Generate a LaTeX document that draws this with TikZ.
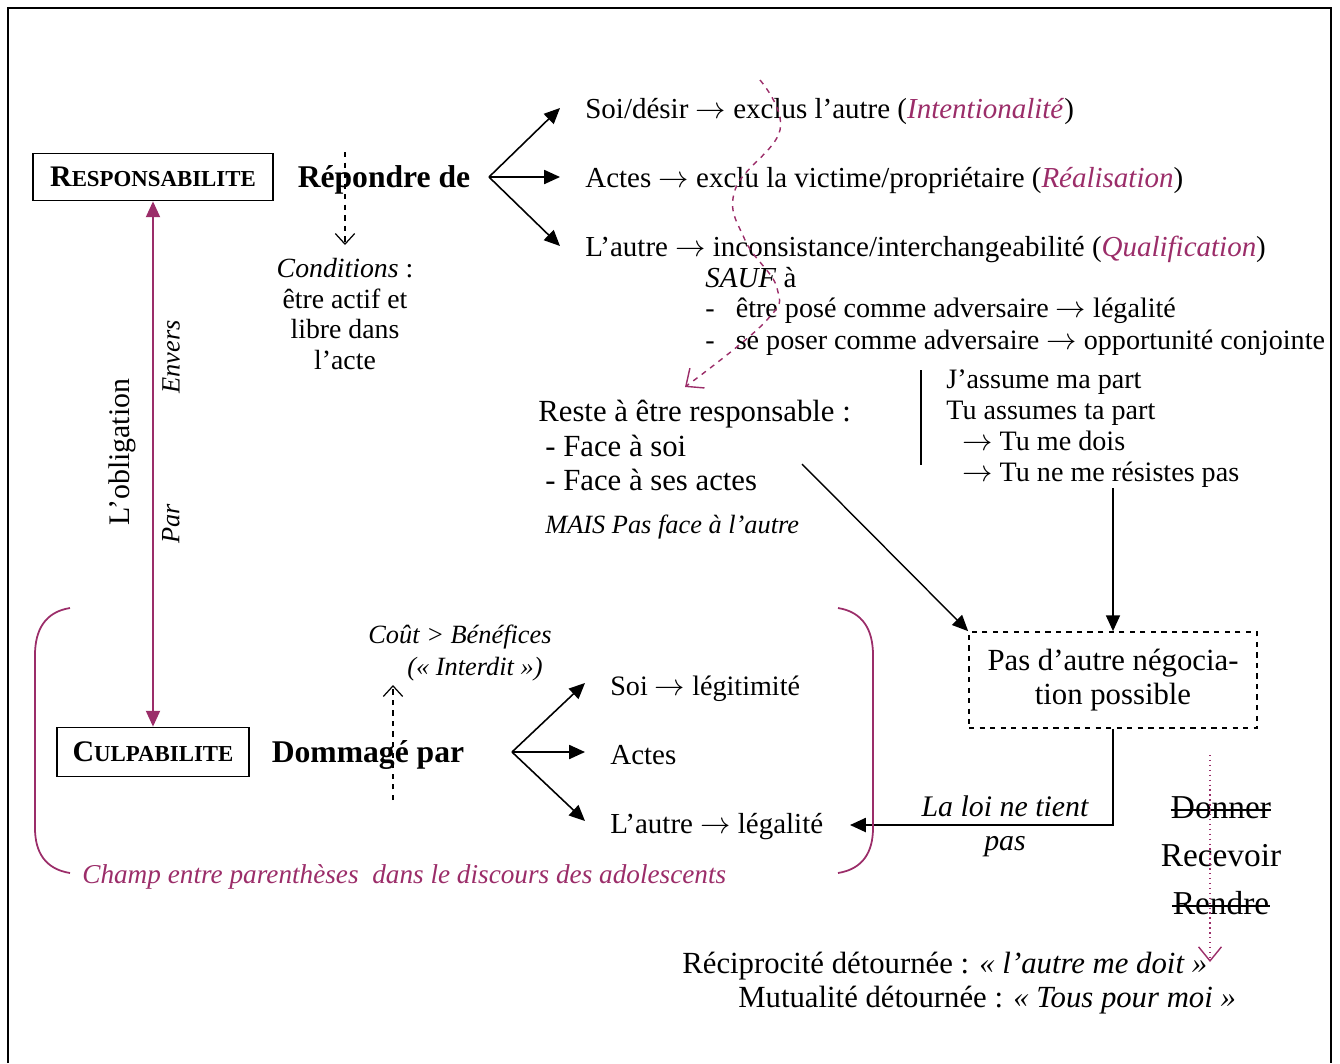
\documentclass[tikz,border=0pt]{standalone}
\usepackage{fontspec}
\setmainfont{Liberation Serif}
\usetikzlibrary{arrows.meta}
\definecolor{plum}{RGB}{155,45,105}
\newcommand{\pl}[1]{\textcolor{plum}{\textit{#1}}}
\newcommand{\ar}{$\rightarrow$}
\newcommand{\fakesc}[2]{{\fontsize{17}{20}\selectfont #1}{\fontsize{13}{16}\selectfont #2}}
\tikzset{
	lbl/.style={inner sep=0pt, anchor=west, text height=12pt, text depth=0.6pt},
	mid/.style={inner sep=0pt, text height=12pt, text depth=0.6pt},
	concept/.style={draw, line width=1pt, font=\bfseries, inner sep=0pt},
	fork/.style={line width=0.9pt, -{Triangle[length=9pt,width=8pt]}},
	hint/.style={dashed, line width=0.7pt, -{Straight Barb[length=6pt,width=11pt]}},
	bracket/.style={plum, line width=1pt},
	big/.style={font=\fontsize{16.5}{19}\selectfont},
	bigger/.style={font=\fontsize{17.5}{20}\selectfont}
}
\begin{document}
\begin{tikzpicture}[x=0.02cm, y=-0.02cm, font=\fontsize{15}{17.6}\selectfont]
	\useasboundingbox (0,0) rectangle (1340,1063);
	\draw[line width=1.1pt] (8,1063) -- (8,8) -- (1331,8) -- (1331,1063);
	% responsabilite
	\node[concept, minimum width=4.8cm, minimum height=0.94cm] (resp) at (153,177) {\fakesc{R}{ESPONSABILITE}};
	\node[mid, font=\fontsize{18}{21}\selectfont\bfseries] (rep) at (384,177) {Répondre de};
	\coordinate (rtop) at (345,152);
	\coordinate (rbot) at (345,245);
	\draw[hint] (rtop) -- (rbot);
	\node[align=center, inner sep=0pt, font=\fontsize{15.8}{17.6}\selectfont] (cond) at (345,314) {\textit{Conditions} :\\être actif et\\libre dans\\l’acte};
	\coordinate (rfork) at (489,177);
	\coordinate (rtip1) at (560,108);
	\coordinate (rtip2) at (560,177);
	\coordinate (rtip3) at (560,246);
	\draw[fork] (rfork) -- (rtip1);
	\draw[fork] (rfork) -- (rtip2);
	\draw[fork] (rfork) -- (rtip3);
	\node[lbl, big] (soi) at (585,108) {Soi/désir \ar{} exclus l’autre (\pl{Intentionalité})};
	\node[lbl, big] (actes) at (585,177) {Actes \ar{} exclu la victime/propriétaire (\pl{Réalisation})};
	\node[lbl, big] (autre) at (585,246) {L’autre \ar{} inconsistance/interchangeabilité (\pl{Qualification})};
	\node[lbl, big] (sauf) at (705,277) {\textit{SAUF} à};
	\node[lbl, font=\fontsize{16}{19}\selectfont] (pose) at (705,307) {-\hspace{0.75em}être posé comme adversaire \ar{} légalité};
	\node[lbl, font=\fontsize{16}{19}\selectfont] (poser) at (705,339) {-\hspace{0.75em}se poser comme adversaire \ar{} opportunité conjointe};
	% fleche ondulee
	\draw[plum, dashed, line width=0.8pt, -{Straight Barb[length=8pt,width=14pt]}]
		plot[smooth, tension=0.7] coordinates {(760,80) (780,130) (735,190) (745,240) (777,288) (765,322) (685,387)};
	\node[lbl, bigger] (reste) at (538,411) {Reste à être responsable :};
	\node[lbl, bigger] (fsoi) at (545,446) {- Face à soi};
	\node[lbl, bigger] (factes) at (545,480) {- Face à ses actes};
	\node[lbl] (mais) at (545,523) {\textit{MAIS Pas face à l’autre}};
	\draw[line width=0.8pt] (921,370) -- (921,465);
	\node[lbl, font=\fontsize{16}{19}\selectfont] (jassume) at (946,378) {J’assume ma part};
	\node[lbl, font=\fontsize{16}{19}\selectfont] (tuassumes) at (946,409) {Tu assumes ta part};
	\node[lbl, font=\fontsize{16}{19}\selectfont] (doit) at (962,440) {\ar{} Tu me dois};
	\node[lbl, font=\fontsize{16}{19}\selectfont] (resiste) at (962,471) {\ar{} Tu ne me résistes pas};
	% negociation
	\node[draw, dashed, line width=1pt, minimum width=5.76cm, minimum height=1.92cm, align=center, font=\fontsize{17.5}{19}\selectfont] (nego) at (1113,680) {Pas d’autre négocia-\\tion possible};
	\coordinate (facestart) at (802,464);
	\coordinate (resstart) at (1113,488);
	\draw[line width=0.8pt, -{Triangle[length=9pt,width=8pt]}] (facestart) -- (nego.north west);
	\draw[line width=0.8pt, -{Triangle[length=9pt,width=8pt]}] (resstart) -- (nego.north);
	\coordinate (loi) at (850,825);
	\draw[line width=1pt, -{Triangle[length=9pt,width=8pt]}] (nego.south) |- (loi);
	\node[mid, font=\fontsize{17}{19}\selectfont\itshape] (loitxt) at (1005,806) {La loi ne tient};
	\node[mid, font=\fontsize{17}{19}\selectfont\itshape] (pastxt) at (1005,840) {pas};
	% obligation
	\node[concept, minimum width=3.84cm, minimum height=0.98cm] (culp) at (153,752) {\fakesc{C}{ULPABILITE}};
	\draw[plum, line width=1pt, {Triangle[length=9pt,width=8pt]}-{Triangle[length=9pt,width=8pt]}] (resp) -- (culp);
	\node[rotate=90, font=\fontsize{17}{20}\selectfont] (oblig) at (122,452) {L’obligation};
	\node[rotate=90, font=\fontsize{15}{18}\selectfont\itshape] (envers) at (171,357) {Envers};
	\node[rotate=90, font=\fontsize{15}{18}\selectfont\itshape] (par) at (171,524) {Par};
	% parentheses
	\draw[bracket] (70,608) .. controls (45,612) and (35,630) .. (35,655) -- (35,828) .. controls (35,852) and (45,869) .. (70,873);
	\draw[bracket] (838,608) .. controls (863,612) and (873,630) .. (873,655) -- (873,828) .. controls (873,852) and (863,869) .. (838,873);
	\node[lbl, text=plum, font=\fontsize{15.5}{18}\selectfont\itshape] (champ) at (82,873) {Champ entre parenthèses\ \ dans le discours des adolescents};
	% culpabilite
	\node[mid, font=\fontsize{18}{21}\selectfont\bfseries] (domm) at (368,752) {Dommagé par};
	\coordinate (dbot) at (393,800);
	\coordinate (dtop) at (393,685);
	\draw[hint] (dbot) -- (dtop);
	\node[mid, font=\fontsize{15}{18}\selectfont\itshape] (cout) at (460,633) {Coût > Bénéfices};
	\node[mid, font=\fontsize{15}{18}\selectfont\itshape] (interdit) at (475,665) {(«~Interdit~»)};
	\coordinate (dfork) at (512,752);
	\coordinate (dtip1) at (585,683);
	\coordinate (dtip2) at (585,752);
	\coordinate (dtip3) at (585,821);
	\draw[fork] (dfork) -- (dtip1);
	\draw[fork] (dfork) -- (dtip2);
	\draw[fork] (dfork) -- (dtip3);
	\node[lbl, font=\fontsize{16}{19}\selectfont] (dsoi) at (610,685) {Soi \ar{} légitimité};
	\node[lbl, big] (dactes) at (610,754) {Actes};
	\node[lbl, big] (dautre) at (610,823) {L’autre \ar{} légalité};
	% don
	\node[mid, font=\fontsize{19}{21}\selectfont] (donner) at (1221,808) {Donner};
	\node[mid, font=\fontsize{19}{21}\selectfont] (recevoir) at (1221,856) {Recevoir};
	\node[mid, font=\fontsize{19}{21}\selectfont] (rendre) at (1221,904) {Rendre};
	\draw[line width=0.8pt] ([yshift=-1.2pt]donner.west) -- ([yshift=-1.2pt]donner.east);
	\draw[line width=0.8pt] ([yshift=-1.2pt]rendre.west) -- ([yshift=-1.2pt]rendre.east);
	\coordinate (dontop) at (1210,755);
	\coordinate (donbot) at (1210,962);
	\draw[plum, dotted, line width=0.8pt, -{Straight Barb[length=8pt,width=13pt]}] (dontop) -- (donbot);
	\node[lbl, bigger] (recip) at (682,963) {Réciprocité détournée : \textit{«~l’autre me doit~»}};
	\node[lbl, bigger] (mutu) at (738,997) {Mutualité détournée : \textit{«~Tous pour moi~»}};
\end{tikzpicture}
\end{document}
